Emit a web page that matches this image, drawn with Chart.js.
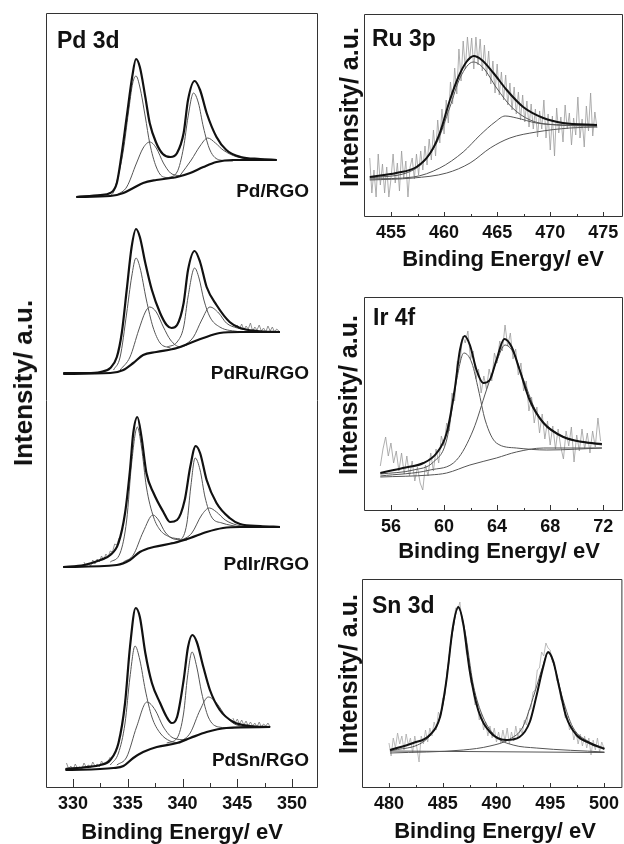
<!DOCTYPE html>
<html>
<head>
<meta charset="utf-8">
<script src="https://cdn.jsdelivr.net/npm/chart.js@4.4.1/dist/chart.umd.min.js"></script>
<style>
  body { margin: 0; background: #fff; width: 624px; height: 844px; overflow: hidden; position: relative;
         font-family: "Liberation Sans", Arial, Helvetica, sans-serif; font-weight: bold; color: #111; }
  .box { position: absolute; }
  .box canvas { display: block; }
  .lbl { position: absolute; white-space: nowrap; line-height: 1; }
  .c { transform: translate(-50%, -50%); }
  .v { transform: translate(-50%, -50%) rotate(-90deg); }
</style>
</head>
<body>
<div class="box" style="left:36px;top:3px"><canvas id="pd" width="292" height="825"></canvas></div>
<div class="box" style="left:354px;top:4px"><canvas id="ru" width="270" height="253"></canvas></div>
<div class="box" style="left:354px;top:287px"><canvas id="ir" width="270" height="264"></canvas></div>
<div class="box" style="left:352px;top:569px"><canvas id="sn" width="272" height="259"></canvas></div>

<div class="lbl" style="left:57px;top:28.5px;font-size:23px">Pd 3d</div>
<div class="lbl" style="right:315px;top:181px;font-size:19px">Pd/RGO</div>
<div class="lbl" style="right:315px;top:363px;font-size:19px">PdRu/RGO</div>
<div class="lbl" style="right:315px;top:553.5px;font-size:19px">PdIr/RGO</div>
<div class="lbl" style="right:315px;top:750px;font-size:19px">PdSn/RGO</div>
<div class="lbl" style="left:372px;top:27px;font-size:23px">Ru 3p</div>
<div class="lbl" style="left:373px;top:306px;font-size:23px">Ir 4f</div>
<div class="lbl" style="left:372px;top:594px;font-size:23px">Sn 3d</div>

<div class="lbl v" style="left:22.5px;top:383px;font-size:26px">Intensity/ a.u.</div>
<div class="lbl v" style="left:349px;top:107px;font-size:25px">Intensity/ a.u.</div>
<div class="lbl v" style="left:347.5px;top:395px;font-size:25px">Intensity/ a.u.</div>
<div class="lbl v" style="left:348px;top:674px;font-size:25px">Intensity/ a.u.</div>

<div class="lbl c" style="left:182px;top:832px;font-size:22px">Binding Energy/ eV</div>
<div class="lbl c" style="left:503px;top:259px;font-size:22px">Binding Energy/ eV</div>
<div class="lbl c" style="left:499px;top:551px;font-size:22px">Binding Energy/ eV</div>
<div class="lbl c" style="left:495px;top:831px;font-size:22px">Binding Energy/ eV</div>

<script>
// Pd 3d stack: [binding energy, intensity], intensity in a.u. (stacked offsets included)
const pdRgoEnv = [[330.3,591],[332.5,593],[333.4,595],[334.0,605],[334.4,631],[334.9,671],[335.4,711],[335.75,729],[336.1,721],[336.6,691],[337.0,665],[337.6,645],[338.2,634],[338.9,631],[339.5,635],[340.1,655],[340.5,688],[341.1,707],[341.6,698],[342.2,675],[343.1,651],[344.0,638],[345.3,631],[347.1,629],[348.6,628]];
const pdRgoBg = [[330.3,591],[333.4,592],[334.6,595],[335.5,600],[336.4,605],[337.6,608],[339.5,611],[340.7,615],[341.9,621],[343.1,626],[344.6,628],[348.6,628]];
const pdRgoC1 = [[333.4,592],[333.7,596],[334.1,611],[334.6,638],[335.05,675],[335.45,705],[335.75,712],[336.1,701],[336.6,671],[337.0,645],[337.6,621],[338.25,611],[339.2,610]];
const pdRgoC2 = [[334.0,593],[334.9,601],[335.8,625],[336.4,640],[337.0,646],[337.6,640],[338.25,625],[338.9,615],[339.8,612]];
const pdRgoC3 = [[338.6,610],[339.5,616],[340.1,641],[340.5,671],[341.0,695],[341.45,685],[341.9,661],[342.5,638],[343.4,628],[344.6,627]];
const pdRgoC4 = [[339.8,613],[340.8,628],[341.6,642],[342.3,650],[343.0,645],[343.7,638],[345.0,631],[346.5,629]];

const pdRuEnv = [[329.1,415],[331.25,415],[332.5,416],[333.4,420],[334.0,431],[334.45,455],[334.9,498],[335.35,541],[335.75,559],[336.1,551],[336.6,525],[337.2,498],[337.95,475],[338.55,463],[339.0,460],[339.5,463],[340.1,485],[340.5,518],[341.1,537],[341.6,526],[342.2,501],[343.1,483],[344.3,466],[345.25,460],[346.8,457],[348.9,456]];
const pdRuBg = [[329.1,414],[333.4,415],[334.6,418],[335.5,425],[336.4,433],[337.6,436],[339.5,440],[340.7,445],[341.9,450],[343.4,455],[345.25,456],[348.9,456]];
const pdRuC1 = [[333.7,418],[334.3,431],[334.9,475],[335.35,511],[335.75,530],[336.1,521],[336.7,488],[337.3,461],[337.95,445],[338.9,440]];
const pdRuC2 = [[334.3,418],[335.2,431],[336.0,458],[336.6,476],[337.0,481],[337.6,476],[338.25,461],[338.9,448],[339.8,441],[340.4,443]];
const pdRuC3 = [[338.6,441],[339.5,446],[340.1,461],[340.5,491],[341.1,520],[341.5,510],[341.95,488],[342.5,471],[343.4,461],[345.25,456]];
const pdRuC4 = [[340.1,442],[341.0,451],[341.75,468],[342.5,481],[343.3,475],[344.0,465],[345.0,460],[346.5,457]];
const pdRuRawStart = 345.0;
const pdRuRaw = [463,459,464,458,462,459,465,457,461,458,463,457,460,456,462,457,461,456,459,457];

const pdIrEnv = [[329.1,221],[331.0,223],[332.5,228],[333.4,233],[334.15,245],[334.75,275],[335.2,318],[335.5,355],[335.87,371],[336.25,351],[336.7,315],[337.35,295],[338.25,276],[338.85,266],[339.5,268],[340.2,288],[340.7,321],[341.2,342],[341.6,335],[342.2,308],[343.1,285],[344.3,270],[345.25,264],[347.1,262],[348.9,261]];
const pdIrBg = [[329.1,221],[334.0,223],[335.2,228],[336.1,236],[337.35,241],[339.2,245],[340.7,250],[342.2,256],[343.7,260],[345.25,261],[348.9,261]];
const pdIrC1 = [[333.4,226],[334.3,235],[334.9,268],[335.35,325],[335.87,361],[336.25,341],[336.7,301],[337.35,271],[337.95,258],[338.85,251],[339.8,249]];
const pdIrC2 = [[334.6,226],[335.5,233],[336.4,256],[337.3,273],[337.8,268],[338.4,256],[339.2,249],[340.4,248]];
const pdIrC3 = [[338.9,245],[339.8,248],[340.4,265],[340.75,301],[341.15,330],[341.6,318],[342.05,291],[342.65,271],[343.6,265],[345.25,261]];
const pdIrC4 = [[339.8,247],[340.85,255],[341.75,273],[342.45,280],[343.1,276],[343.9,268],[344.95,263],[346.5,261]];
const pdIrRawStart = 331.0;
const pdIrRaw = [226,221,225,222,228,224,229,226,232,228,234,231,237,236,244,243,250];

const pdSnEnv = [[329.3,19],[331.25,21],[332.5,23],[333.4,28],[334.15,45],[334.75,85],[335.2,141],[335.72,180],[336.1,171],[336.6,135],[337.2,105],[337.95,85],[338.55,71],[339.0,65],[339.5,71],[340.1,108],[340.5,141],[340.9,153],[341.3,146],[341.9,121],[342.5,98],[343.4,78],[344.65,66],[346.15,62],[348.0,61]];
const pdSnBg = [[329.3,18],[333.7,20],[334.6,22],[335.5,30],[336.4,36],[337.65,41],[339.5,45],[340.7,50],[342.2,56],[344.0,60],[348.0,61]];
const pdSnC1 = [[333.4,23],[334.15,35],[334.75,65],[335.2,111],[335.66,142],[336.1,128],[336.6,98],[337.2,71],[337.95,55],[338.85,47],[339.8,45]];
const pdSnC2 = [[334.0,23],[334.9,31],[335.8,61],[336.75,86],[337.5,78],[338.25,61],[339.15,50],[340.35,48]];
const pdSnC3 = [[338.55,45],[339.5,50],[340.1,75],[340.45,111],[340.87,136],[341.3,121],[341.75,95],[342.35,71],[343.3,61],[344.65,60]];
const pdSnC4 = [[339.8,46],[340.7,55],[341.6,78],[342.35,91],[343.1,85],[344.0,71],[344.95,63],[346.5,61]];
const pdSnRawLStart = 329.4;
const pdSnRawL = [25,19,22,18,24,20,21,19,25,21,23,20,26,22,24,21,27,24,26,27,31];
const pdSnRawRStart = 344.6;
const pdSnRawR = [70,65,69,64,68,63,67,62,66,62,65,61,66,61,64,62,65,61];

// Ru 3p
const ruEnv = [[453.0,40],[455.5,44],[457.4,50],[458.7,64],[459.6,84],[460.55,117],[461.35,140],[462.1,155],[462.8,161],[463.55,157],[464.65,144],[465.9,127],[467.45,110],[469.35,99],[471.2,94],[474.4,92]];
const ruC1 = [[453.0,39],[457.1,47],[459.3,74],[460.55,110],[461.5,139],[462.75,155],[463.7,149],[464.95,129],[466.35,110],[468.1,97],[470.6,92],[474.4,91]];
const ruC2 = [[453.0,38],[457.1,40],[459.6,49],[461.8,65],[463.4,82],[464.8,95],[465.75,101],[466.85,99],[468.7,94],[471.2,92],[474.4,91]];
const ruBg = [[453.0,37],[457.1,39],[460.25,44],[462.45,54],[464.35,69],[466.2,79],[468.7,85],[471.85,89],[474.4,90]];
const ruRawStart = 453.0;
const ruRaw = [59,24,47,20,63,32,53,24,50,20, 38,63,34,54,26,66,38,56,20,50, 59,38,63,42,66,47,71,52,78,57,
  87,61,97,74,108,83,117,94,135,113, 149,123,168,136,176,148,180,157,179,148, 180,152,178,146,172,141,166,133,156,124,
  153,122,145,117,142,112,134,107,130,103, 125,97,122,95,116,90,113,88,108,80, 106,88,117,79,103,67,101,61,109,84,
  100,75,112,88,104,72,99,82,120,79, 98,70,111,86,124,81,105,89];

// Ir 4f
const irEnv = [[55.2,38],[56.9,43],[58.45,48],[59.45,58],[60.2,78],[60.8,121],[61.2,161],[61.55,175],[61.95,166],[62.45,141],[62.95,128],[63.45,131],[63.95,151],[64.55,172],[65.1,164],[65.7,141],[66.45,111],[67.5,88],[69.0,74],[70.5,69],[71.9,67]];
const irC1 = [[55.2,37],[57.7,41],[59.2,49],[60.2,71],[60.95,131],[61.5,158],[62.1,148],[62.6,121],[63.1,91],[63.95,68],[65.45,63],[67.75,61],[71.9,63]];
const irC2 = [[55.2,35],[58.95,41],[60.95,51],[62.2,81],[63.2,121],[63.95,149],[64.6,166],[65.2,159],[66.0,131],[67.0,98],[68.5,78],[70.0,70],[71.9,66]];
const irBg = [[55.2,34],[58.95,36],[60.2,38],[61.95,46],[63.95,53],[65.45,59],[67.5,63],[71.9,63]];
const irRawStart = 55.2;
const irRaw = [45,62,74,55,68,48,60,40,58,37, 55,35,50,30,44,28,21,46,35,58, 40,62,48,75,65,88,80,118,110,150,
  148,175,168,180,152,160,132,142,118,135, 122,142,130,158,148,170,160,186,165,178, 152,162,136,148,120,130,100,114,88,104,
  78,97,72,90,66,85,62,82,64,52, 80,65,84,49,76,60,82,62,78,58, 80,64,93,70];

// Sn 3d
const snEnv = [[480.1,38],[482.25,45],[483.8,53],[484.75,71],[485.35,108],[485.95,161],[486.45,181],[486.9,165],[487.5,118],[488.3,78],[489.4,56],[490.9,48],[492.15,51],[493.1,66],[493.7,91],[494.35,121],[494.8,136],[495.25,128],[495.9,98],[496.5,71],[497.45,53],[498.65,45],[500.05,39]];
const snC1 = [[480.1,37],[483.8,52],[485.05,85],[485.8,148],[486.45,180],[487.05,158],[487.85,103],[488.75,71],[490.0,51],[491.55,43],[493.7,40],[500.05,36]];
const snC2 = [[480.1,35],[486.9,38],[489.4,42],[491.25,49],[492.45,61],[493.55,95],[494.35,123],[494.8,135],[495.3,125],[496.2,88],[497.1,61],[498.65,46],[500.05,40]];
const snBg = [[480.1,37],[500.05,35.5]];
const snRawStart = 480.0;
const snRaw = [45,32,50,40,55,44,52,38,54,43, 50,35,52,40,26,52,44,58,46,60, 52,66,58,76,70,90,92,118,125,152,
  160,180,178,186,166,160,135,130,106,102, 83,86,68,74,58,66,52,62,50,60, 46,56,45,58,47,60,44,56,47,62,
  50,60,54,68,63,78,79,96,98,118, 120,136,132,145,140,138,126,126,108,104, 88,86,70,72,58,62,48,56,44,54,
  42,52,40,50,33,48,38,50,36,46, 40];

const RAW_STEP = 0.2;   // eV between raw data points

// axis ticks (minor ones carry no label)
const pdTicks = [330, 332.5, 335, 337.5, 340, 342.5, 345, 347.5, 350];
const pdLabels = [330, 335, 340, 345, 350];
const ruTicks = [455, 457.5, 460, 462.5, 465, 467.5, 470, 472.5, 475];
const ruLabels = [455, 460, 465, 470, 475];
const irTicks = [56, 58, 60, 62, 64, 66, 68, 70, 72];
const irLabels = [56, 60, 64, 68, 72];
const snTicks = [480, 482.5, 485, 487.5, 490, 492.5, 495, 497.5, 500];
const snLabels = [480, 485, 490, 495, 500];

const ENV = '#111', COMP = '#555', RAW = '#9a9a9a';

function curve(pts, color, width) {
  return { data: pts.map(([x, y]) => ({ x, y })), borderColor: color, borderWidth: width,
           pointRadius: 0, fill: false, cubicInterpolationMode: 'monotone' };
}

function noisy(start, vals, color) {
  return { data: vals.map((y, i) => ({ x: +(start + i * RAW_STEP).toFixed(2), y })), borderColor: color || RAW,
           borderWidth: 0.8, pointRadius: 0, fill: false, tension: 0 };
}

// box frame + inward ticks on the bottom axis
const frameTicks = {
  id: 'frameTicks',
  afterDraw(chart, args, opts) {
    const { ctx, chartArea: a } = chart;
    const xs = chart.scales.x;
    ctx.save();
    ctx.strokeStyle = '#333';
    ctx.lineWidth = 1;
    ctx.beginPath();
    ctx.rect(a.left + 0.5, a.top + 0.5, a.width - 1, a.height - 1);
    xs.ticks.forEach(t => {
      const x = Math.round(xs.getPixelForValue(t.value)) + 0.5;
      const len = opts.labels.includes(t.value) ? opts.major : opts.minor;
      ctx.moveTo(x, a.bottom);
      ctx.lineTo(x, a.bottom - len);
    });
    ctx.stroke();
    ctx.restore();
  }
};

function panel(id, xmin, xmax, ymax, padR, ticks, labels, major, minor, datasets) {
  return new Chart(document.getElementById(id), {
    type: 'line',
    data: { datasets },
    options: {
      responsive: false,
      animation: false,
      devicePixelRatio: 1,
      layout: { padding: { left: 10, right: padR, top: 10, bottom: 0 } },
      plugins: { legend: { display: false }, tooltip: { enabled: false },
                 frameTicks: { labels, major, minor } },
      scales: {
        x: {
          type: 'linear', min: xmin, max: xmax,
          grid: { display: false, drawTicks: false },
          border: { display: false },
          afterBuildTicks: s => { s.ticks = ticks.map(v => ({ value: v })); },
          afterFit: s => { s.height = 40; },
          ticks: {
            autoSkip: false, maxRotation: 0, padding: 5, color: '#111',
            font: { family: '"Liberation Sans", Arial, sans-serif', size: 18, weight: 'bold' },
            callback: v => labels.includes(v) ? String(v) : ''
          }
        },
        y: { display: false, min: 0, max: ymax }
      }
    },
    plugins: [frameTicks]
  });
}

// envelope on top, then background, then the four fitted components
function pdSet(env, bg, c1, c2, c3, c4) {
  return [curve(env, ENV, 2.2), curve(bg, ENV, 2.2), curve(c1, COMP, 1), curve(c2, COMP, 1),
          curve(c3, COMP, 1), curve(c4, COMP, 1)];
}

panel('pd', 327.53, 352.37, 775, 10, pdTicks, pdLabels, 9, 5, [
  ...pdSet(pdRgoEnv, pdRgoBg, pdRgoC1, pdRgoC2, pdRgoC3, pdRgoC4),
  ...pdSet(pdRuEnv, pdRuBg, pdRuC1, pdRuC2, pdRuC3, pdRuC4),
  ...pdSet(pdIrEnv, pdIrBg, pdIrC1, pdIrC2, pdIrC3, pdIrC4),
  ...pdSet(pdSnEnv, pdSnBg, pdSnC1, pdSnC2, pdSnC3, pdSnC4),
  noisy(pdRuRawStart, pdRuRaw, '#777'), noisy(pdIrRawStart, pdIrRaw, '#777'),
  noisy(pdSnRawLStart, pdSnRawL, '#777'), noisy(pdSnRawRStart, pdSnRawR, '#777')
]);

panel('ru', 452.46, 476.85, 203, 1, ruTicks, ruLabels, 5, 3, [
  curve(ruEnv, ENV, 2), curve(ruC1, COMP, 1), curve(ruC2, COMP, 1), curve(ruBg, COMP, 1),
  noisy(ruRawStart, ruRaw)
]);

panel('ir', 53.97, 73.49, 214, 1, irTicks, irLabels, 6, 3, [
  curve(irEnv, ENV, 2), curve(irC1, COMP, 1), curve(irC2, COMP, 1), curve(irBg, COMP, 1),
  noisy(irRawStart, irRaw)
]);

panel('sn', 477.49, 501.72, 209, 1, snTicks, snLabels, 5, 3, [
  curve(snEnv, ENV, 2), curve(snC1, COMP, 1), curve(snC2, COMP, 1), curve(snBg, COMP, 1),
  noisy(snRawStart, snRaw, '#aaa')
]);
</script>
</body>
</html>
